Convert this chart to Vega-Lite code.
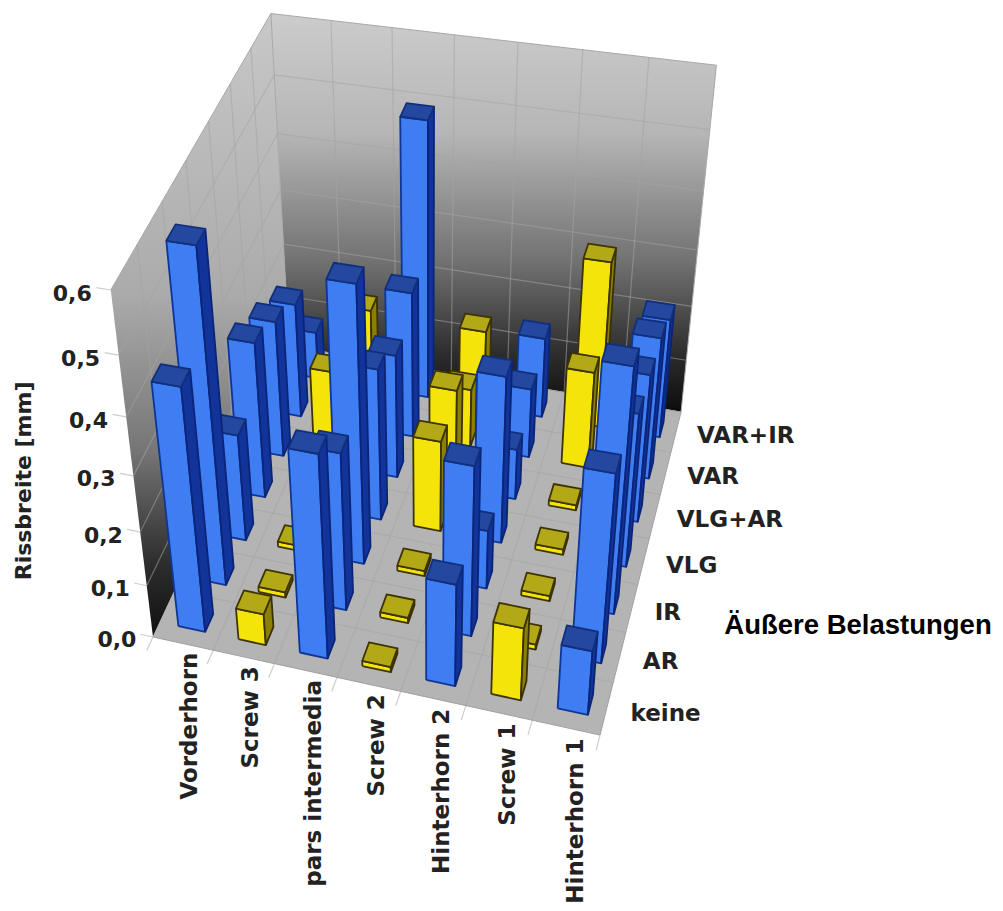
{
  "$schema": "https://vega.github.io/schema/vega-lite/v6.json",
  "width": 1003,
  "height": 911,
  "padding": 0,
  "autosize": "none",
  "background": "white",
  "view": {"stroke": null},
  "datasets": {
    "rissbreiten": [
      {"stelle":"Vorderhorn","belastung":"VAR+IR","wert":0.09},{"stelle":"Screw 3","belastung":"VAR+IR","wert":0.15},{"stelle":"pars intermedia","belastung":"VAR+IR","wert":0.50},{"stelle":"Screw 2","belastung":"VAR+IR","wert":0.145},{"stelle":"Hinterhorn 2","belastung":"VAR+IR","wert":0.15},{"stelle":"Screw 1","belastung":"VAR+IR","wert":0.305},{"stelle":"Hinterhorn 1","belastung":"VAR+IR","wert":0.22},
      {"stelle":"Vorderhorn","belastung":"VAR","wert":0.215},{"stelle":"Screw 3","belastung":"VAR","wert":0.01},{"stelle":"pars intermedia","belastung":"VAR","wert":0.27},{"stelle":"Screw 2","belastung":"VAR","wert":0.11},{"stelle":"Hinterhorn 2","belastung":"VAR","wert":0.13},{"stelle":"Screw 1","belastung":"VAR","wert":0.18},{"stelle":"Hinterhorn 1","belastung":"VAR","wert":0.26},
      {"stelle":"Vorderhorn","belastung":"VLG+AR","wert":0.255},{"stelle":"Screw 3","belastung":"VLG+AR","wert":0.18},{"stelle":"pars intermedia","belastung":"VLG+AR","wert":0.23},{"stelle":"Screw 2","belastung":"VLG+AR","wert":0.185},{"stelle":"Hinterhorn 2","belastung":"VLG+AR","wert":0.095},{"stelle":"Screw 1","belastung":"VLG+AR","wert":0.01},{"stelle":"Hinterhorn 1","belastung":"VLG+AR","wert":0.27},
      {"stelle":"Vorderhorn","belastung":"VLG","wert":0.29},{"stelle":"Screw 3","belastung":"VLG","wert":0.01},{"stelle":"pars intermedia","belastung":"VLG","wert":0.28},{"stelle":"Screw 2","belastung":"VLG","wert":0.17},{"stelle":"Hinterhorn 2","belastung":"VLG","wert":0.305},{"stelle":"Screw 1","belastung":"VLG","wert":0.01},{"stelle":"Hinterhorn 1","belastung":"VLG","wert":0.28},
      {"stelle":"Vorderhorn","belastung":"IR","wert":0.20},{"stelle":"Screw 3","belastung":"IR","wert":0.01},{"stelle":"pars intermedia","belastung":"IR","wert":0.495},{"stelle":"Screw 2","belastung":"IR","wert":0.01},{"stelle":"Hinterhorn 2","belastung":"IR","wert":0.11},{"stelle":"Screw 1","belastung":"IR","wert":0.01},{"stelle":"Hinterhorn 1","belastung":"IR","wert":0.435},
      {"stelle":"Vorderhorn","belastung":"AR","wert":0.59},{"stelle":"Screw 3","belastung":"AR","wert":0.01},{"stelle":"pars intermedia","belastung":"AR","wert":0.29},{"stelle":"Screw 2","belastung":"AR","wert":0.01},{"stelle":"Hinterhorn 2","belastung":"AR","wert":0.31},{"stelle":"Screw 1","belastung":"AR","wert":0.01},{"stelle":"Hinterhorn 1","belastung":"AR","wert":0.34},
      {"stelle":"Vorderhorn","belastung":"keine","wert":0.44},{"stelle":"Screw 3","belastung":"keine","wert":0.06},{"stelle":"pars intermedia","belastung":"keine","wert":0.37},{"stelle":"Screw 2","belastung":"keine","wert":0.01},{"stelle":"Hinterhorn 2","belastung":"keine","wert":0.19},{"stelle":"Screw 1","belastung":"keine","wert":0.136},{"stelle":"Hinterhorn 1","belastung":"keine","wert":0.12}
    ],
    "raster": [
      {"a":[0.1429,1,0],"b":[0.1429,1,1]},{"a":[0.2857,1,0],"b":[0.2857,1,1]},{"a":[0.4286,1,0],"b":[0.4286,1,1]},{"a":[0.5714,1,0],"b":[0.5714,1,1]},{"a":[0.7143,1,0],"b":[0.7143,1,1]},{"a":[0.8571,1,0],"b":[0.8571,1,1]},
      {"a":[0,1,0.1667],"b":[1,1,0.1667]},{"a":[0,1,0.3333],"b":[1,1,0.3333]},{"a":[0,1,0.5],"b":[1,1,0.5]},{"a":[0,1,0.6667],"b":[1,1,0.6667]},{"a":[0,1,0.8333],"b":[1,1,0.8333]},
      {"a":[0,0,0.1667],"b":[0,1,0.1667]},{"a":[0,0,0.3333],"b":[0,1,0.3333]},{"a":[0,0,0.5],"b":[0,1,0.5]},{"a":[0,0,0.6667],"b":[0,1,0.6667]},{"a":[0,0,0.8333],"b":[0,1,0.8333]},
      {"a":[0,0.1429,0],"b":[0,0.1429,1]},{"a":[0,0.2857,0],"b":[0,0.2857,1]},{"a":[0,0.4286,0],"b":[0,0.4286,1]},{"a":[0,0.5714,0],"b":[0,0.5714,1]},{"a":[0,0.7143,0],"b":[0,0.7143,1]},{"a":[0,0.8571,0],"b":[0,0.8571,1]},
      {"a":[0.1429,0,0],"b":[0.1429,1,0]},{"a":[0.2857,0,0],"b":[0.2857,1,0]},{"a":[0.4286,0,0],"b":[0.4286,1,0]},{"a":[0.5714,0,0],"b":[0.5714,1,0]},{"a":[0.7143,0,0],"b":[0.7143,1,0]},{"a":[0.8571,0,0],"b":[0.8571,1,0]},
      {"a":[0,0.1429,0],"b":[1,0.1429,0]},{"a":[0,0.2857,0],"b":[1,0.2857,0]},{"a":[0,0.4286,0],"b":[1,0.4286,0]},{"a":[0,0.5714,0],"b":[1,0.5714,0]},{"a":[0,0.7143,0],"b":[1,0.7143,0]},{"a":[0,0.8571,0],"b":[1,0.8571,0]},
      {"a":[-0.03,0,0],"b":[0,0,0]},{"a":[-0.03,0,0.1667],"b":[0,0,0.1667]},{"a":[-0.03,0,0.3333],"b":[0,0,0.3333]},{"a":[-0.03,0,0.5],"b":[0,0,0.5]},{"a":[-0.03,0,0.6667],"b":[0,0,0.6667]},{"a":[-0.03,0,0.8333],"b":[0,0,0.8333]},{"a":[-0.03,0,1],"b":[0,0,1]},
      {"a":[0,-0.04,0],"b":[0,0,0]},{"a":[0.1429,-0.04,0],"b":[0.1429,0,0]},{"a":[0.2857,-0.04,0],"b":[0.2857,0,0]},{"a":[0.4286,-0.04,0],"b":[0.4286,0,0]},{"a":[0.5714,-0.04,0],"b":[0.5714,0,0]},{"a":[0.7143,-0.04,0],"b":[0.7143,0,0]},{"a":[0.8571,-0.04,0],"b":[0.8571,0,0]},{"a":[1,-0.04,0],"b":[1,0,0]}
    ]
  },
  "encoding": {
    "x": {"field": "sx", "type": "quantitative", "axis": null, "scale": {"domain": [0, 1003], "nice": false, "zero": false}},
    "y": {"field": "sy", "type": "quantitative", "axis": null, "scale": {"domain": [911, 0], "nice": false, "zero": false}}
  },
  "layer": [
    {
      "description": "Rear wall",
      "data": {"values": [{"ecke": 0}, {"ecke": 1}, {"ecke": 2}, {"ecke": 3}]},
      "transform": [
        {"calculate": "datum.ecke == 1 || datum.ecke == 2 ? 1 : 0", "as": "u"},
        {"calculate": "1", "as": "w"},
        {"calculate": "datum.ecke >= 2 ? 1 : 0", "as": "z"},
        {"calculate": "1 - 0.06755*datum.u + 0.15427*datum.w - 0.1332*datum.z", "as": "q"},
        {"calculate": "(406.5*datum.u + 180.6*datum.w + 153 - 57*datum.z) / datum.q", "as": "sx"},
        {"calculate": "(48.4*datum.u - 237.6*datum.w + 637 - 385.6*datum.z) / datum.q", "as": "sy"}
      ],
      "mark": {"type": "line", "strokeWidth": 1, "stroke": "#a8a8a8", "fill": {"gradient": "linear", "x1": 0, "y1": 0, "x2": 0, "y2": 1, "stops": [{"offset": 0, "color": "#cccccc"}, {"offset": 0.3, "color": "#b6b6b6"}, {"offset": 0.62, "color": "#727272"}, {"offset": 0.85, "color": "#2e2e2e"}, {"offset": 1, "color": "#0c0c0c"}]}},
      "encoding": {"order": {"field": "ecke"}}
    },
    {
      "description": "Side wall",
      "data": {"values": [{"ecke": 0}, {"ecke": 1}, {"ecke": 2}, {"ecke": 3}]},
      "transform": [
        {"calculate": "0", "as": "u"},
        {"calculate": "datum.ecke == 1 || datum.ecke == 2 ? 1 : 0", "as": "w"},
        {"calculate": "datum.ecke >= 2 ? 1 : 0", "as": "z"},
        {"calculate": "1 - 0.06755*datum.u + 0.15427*datum.w - 0.1332*datum.z", "as": "q"},
        {"calculate": "(406.5*datum.u + 180.6*datum.w + 153 - 57*datum.z) / datum.q", "as": "sx"},
        {"calculate": "(48.4*datum.u - 237.6*datum.w + 637 - 385.6*datum.z) / datum.q", "as": "sy"}
      ],
      "mark": {"type": "line", "strokeWidth": 1, "stroke": "#a8a8a8", "fill": {"gradient": "linear", "x1": 0, "y1": 0, "x2": 0, "y2": 1, "stops": [{"offset": 0, "color": "#c8c8c8"}, {"offset": 0.45, "color": "#ababab"}, {"offset": 0.7, "color": "#767676"}, {"offset": 0.88, "color": "#2e2e2e"}, {"offset": 1, "color": "#101010"}]}},
      "encoding": {"order": {"field": "ecke"}}
    },
    {
      "description": "Floor",
      "data": {"values": [{"ecke": 0}, {"ecke": 1}, {"ecke": 2}, {"ecke": 3}]},
      "transform": [
        {"calculate": "datum.ecke == 1 || datum.ecke == 2 ? 1 : 0", "as": "u"},
        {"calculate": "datum.ecke >= 2 ? 1 : 0", "as": "w"},
        {"calculate": "0", "as": "z"},
        {"calculate": "1 - 0.06755*datum.u + 0.15427*datum.w - 0.1332*datum.z", "as": "q"},
        {"calculate": "(406.5*datum.u + 180.6*datum.w + 153 - 57*datum.z) / datum.q", "as": "sx"},
        {"calculate": "(48.4*datum.u - 237.6*datum.w + 637 - 385.6*datum.z) / datum.q", "as": "sy"}
      ],
      "mark": {"type": "line", "strokeWidth": 1, "stroke": "#a0a0a0", "fill": "#b4b4b5"},
      "encoding": {"order": {"field": "ecke"}}
    },
    {
      "description": "Grid lines on walls and floor, with the short ticks outside the frame",
      "data": {"name": "raster"},
      "transform": [
        {"calculate": "1 - 0.06755*datum.a[0] + 0.15427*datum.a[1] - 0.1332*datum.a[2]", "as": "q"},
        {"calculate": "(406.5*datum.a[0] + 180.6*datum.a[1] + 153 - 57*datum.a[2]) / datum.q", "as": "sx"},
        {"calculate": "(48.4*datum.a[0] - 237.6*datum.a[1] + 637 - 385.6*datum.a[2]) / datum.q", "as": "sy"},
        {"calculate": "1 - 0.06755*datum.b[0] + 0.15427*datum.b[1] - 0.1332*datum.b[2]", "as": "q2"},
        {"calculate": "(406.5*datum.b[0] + 180.6*datum.b[1] + 153 - 57*datum.b[2]) / datum.q2", "as": "sx2"},
        {"calculate": "(48.4*datum.b[0] - 237.6*datum.b[1] + 637 - 385.6*datum.b[2]) / datum.q2", "as": "sy2"}
      ],
      "mark": {"type": "rule", "stroke": "#a4a4a4", "strokeWidth": 1.2, "opacity": 0.55},
      "encoding": {"x2": {"field": "sx2"}, "y2": {"field": "sy2"}}
    },
    {
      "description": "Bars: front, right and top face of every column, painted from back to front",
      "data": {"name": "rissbreiten"},
      "transform": [
        {"calculate": "indexof(['Vorderhorn','Screw 3','pars intermedia','Screw 2','Hinterhorn 2','Screw 1','Hinterhorn 1'], datum.stelle)", "as": "i"},
        {"calculate": "indexof(['keine','AR','IR','VLG','VLG+AR','VAR','VAR+IR'], datum.belastung)", "as": "j"},
        {"calculate": "[0, 1, 2]", "as": "flaechen"},
        {"flatten": ["flaechen"], "as": ["flaeche"]},
        {"calculate": "[0, 1, 2, 3, 4]", "as": "ecken"},
        {"flatten": ["ecken"], "as": ["ecke"]},
        {"calculate": "datum.ecke == 1 || datum.ecke == 2", "as": "e1"},
        {"calculate": "datum.ecke == 2 || datum.ecke == 3", "as": "e2"},
        {"calculate": "(datum.i + 0.5) / 7 + 0.005 + (datum.flaeche == 1 || datum.e1 ? 0.032 : -0.032)", "as": "u"},
        {"calculate": "(datum.j + 0.5) / 7 + (datum.flaeche == 0 ? -0.027 : datum.flaeche == 1 ? (datum.e1 ? 0.027 : -0.027) : (datum.e2 ? 0.027 : -0.027))", "as": "w"},
        {"calculate": "datum.flaeche == 2 || datum.e2 ? datum.wert / 0.6 : 0", "as": "z"},
        {"calculate": "1 - 0.06755*datum.u + 0.15427*datum.w - 0.1332*datum.z", "as": "q"},
        {"calculate": "(406.5*datum.u + 180.6*datum.w + 153 - 57*datum.z) / datum.q", "as": "sx"},
        {"calculate": "(48.4*datum.u - 237.6*datum.w + 637 - 385.6*datum.z) / datum.q", "as": "sy"},
        {"calculate": "(test(/Screw/, datum.stelle) ? 'gelb' : 'blau') + datum.flaeche", "as": "ton"},
        {"calculate": "datum.stelle + '|' + datum.belastung + '|' + datum.flaeche", "as": "saeule"}
      ],
      "mark": {"type": "line", "strokeWidth": 1.8, "strokeJoin": "round"},
      "encoding": {
        "detail": {"field": "saeule"},
        "order": {"field": "ecke"},
        "fill": {"field": "ton", "type": "nominal", "legend": null, "scale": {"domain": ["blau0", "blau1", "blau2", "gelb0", "gelb1", "gelb2"], "range": ["#3f7df2", "#12349a", "#24479f", "#f5e40a", "#8c7f06", "#b3a916"]}},
        "stroke": {"field": "ton", "type": "nominal", "legend": null, "scale": {"domain": ["blau0", "blau1", "blau2", "gelb0", "gelb1", "gelb2"], "range": ["#0f3596", "#0a2478", "#10307e", "#3e3400", "#3a3000", "#3e3400"]}}
      }
    },
    {
      "description": "Value axis labels",
      "data": {"values": [{"wert": 0, "text": "0,0"}, {"wert": 0.1, "text": "0,1"}, {"wert": 0.2, "text": "0,2"}, {"wert": 0.3, "text": "0,3"}, {"wert": 0.4, "text": "0,4"}, {"wert": 0.5, "text": "0,5"}, {"wert": 0.6, "text": "0,6"}]},
      "transform": [
        {"calculate": "-0.04", "as": "u"},
        {"calculate": "0", "as": "w"},
        {"calculate": "datum.wert / 0.6", "as": "z"},
        {"calculate": "1 - 0.06755*datum.u + 0.15427*datum.w - 0.1332*datum.z", "as": "q"},
        {"calculate": "(406.5*datum.u + 180.6*datum.w + 153 - 57*datum.z) / datum.q", "as": "sx"},
        {"calculate": "(48.4*datum.u - 237.6*datum.w + 637 - 385.6*datum.z) / datum.q", "as": "sy"}
      ],
      "mark": {"type": "text", "align": "right", "baseline": "middle", "dy": 7, "font": "DejaVu Sans", "fontWeight": "bold", "fontSize": 22, "fill": "#222222"},
      "encoding": {"text": {"field": "text"}}
    },
    {
      "description": "Category labels along the front edge",
      "data": {"values": [{"stelle": "Vorderhorn"}, {"stelle": "Screw 3"}, {"stelle": "pars intermedia"}, {"stelle": "Screw 2"}, {"stelle": "Hinterhorn 2"}, {"stelle": "Screw 1"}, {"stelle": "Hinterhorn 1"}]},
      "transform": [
        {"calculate": "indexof(['Vorderhorn','Screw 3','pars intermedia','Screw 2','Hinterhorn 2','Screw 1','Hinterhorn 1'], datum.stelle)", "as": "i"},
        {"calculate": "(datum.i + 0.5) / 7", "as": "u"},
        {"calculate": "-0.05", "as": "w"},
        {"calculate": "0", "as": "z"},
        {"calculate": "1 - 0.06755*datum.u + 0.15427*datum.w - 0.1332*datum.z", "as": "q"},
        {"calculate": "(406.5*datum.u + 180.6*datum.w + 153 - 57*datum.z) / datum.q", "as": "sx"},
        {"calculate": "(48.4*datum.u - 237.6*datum.w + 637 - 385.6*datum.z) / datum.q", "as": "sy"}
      ],
      "mark": {"type": "text", "align": "right", "baseline": "middle", "angle": 270, "dx": 8, "dy": 15, "font": "DejaVu Sans", "fontWeight": "bold", "fontSize": 23, "fill": "#222222"},
      "encoding": {"text": {"field": "stelle"}}
    },
    {
      "description": "Load labels along the right edge",
      "data": {"values": [{"belastung": "keine"}, {"belastung": "AR"}, {"belastung": "IR"}, {"belastung": "VLG"}, {"belastung": "VLG+AR"}, {"belastung": "VAR"}, {"belastung": "VAR+IR"}]},
      "transform": [
        {"calculate": "indexof(['keine','AR','IR','VLG','VLG+AR','VAR','VAR+IR'], datum.belastung)", "as": "j"},
        {"calculate": "1.05", "as": "u"},
        {"calculate": "(datum.j + 0.5) / 7", "as": "w"},
        {"calculate": "0", "as": "z"},
        {"calculate": "1 - 0.06755*datum.u + 0.15427*datum.w - 0.1332*datum.z", "as": "q"},
        {"calculate": "(406.5*datum.u + 180.6*datum.w + 153 - 57*datum.z) / datum.q", "as": "sx"},
        {"calculate": "(48.4*datum.u - 237.6*datum.w + 637 - 385.6*datum.z) / datum.q", "as": "sy"}
      ],
      "mark": {"type": "text", "align": "left", "baseline": "middle", "font": "DejaVu Sans", "fontWeight": "bold", "fontSize": 23, "fill": "#222222"},
      "encoding": {"text": {"field": "belastung"}}
    },
    {
      "description": "Value axis title",
      "data": {"values": [{"text": "Rissbreite [mm]", "u": -0.26, "w": 0, "z": 0.42}]},
      "transform": [
        {"calculate": "1 - 0.06755*datum.u + 0.15427*datum.w - 0.1332*datum.z", "as": "q"},
        {"calculate": "(406.5*datum.u + 180.6*datum.w + 153 - 57*datum.z) / datum.q", "as": "sx"},
        {"calculate": "(48.4*datum.u - 237.6*datum.w + 637 - 385.6*datum.z) / datum.q", "as": "sy"}
      ],
      "mark": {"type": "text", "align": "center", "baseline": "middle", "angle": 270, "font": "DejaVu Sans", "fontWeight": "bold", "fontSize": 22, "fill": "#222222"},
      "encoding": {"text": {"field": "text"}}
    },
    {
      "description": "Load axis title",
      "data": {"values": [{"text": "Äußere Belastungen", "u": 1.2, "w": 0.36, "z": 0}]},
      "transform": [
        {"calculate": "1 - 0.06755*datum.u + 0.15427*datum.w - 0.1332*datum.z", "as": "q"},
        {"calculate": "(406.5*datum.u + 180.6*datum.w + 153 - 57*datum.z) / datum.q", "as": "sx"},
        {"calculate": "(48.4*datum.u - 237.6*datum.w + 637 - 385.6*datum.z) / datum.q", "as": "sy"}
      ],
      "mark": {"type": "text", "align": "left", "baseline": "middle", "font": "Liberation Sans", "fontWeight": "bold", "fontSize": 27.5, "fill": "#000000"},
      "encoding": {"text": {"field": "text"}}
    }
  ]
}
